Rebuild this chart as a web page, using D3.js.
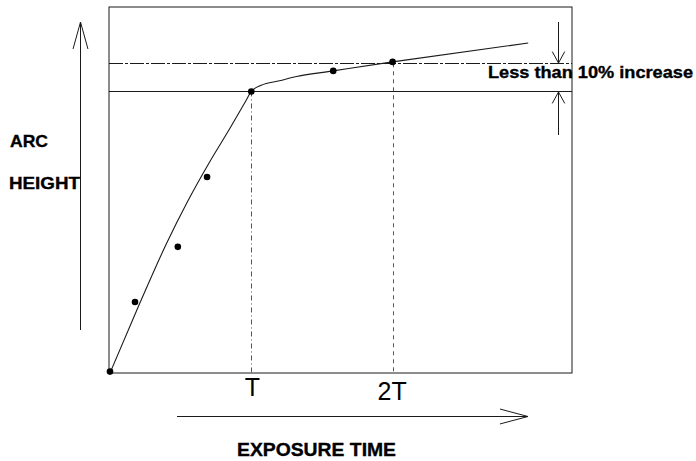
<!DOCTYPE html>
<html>
<head>
<meta charset="utf-8">
<script src="https://cdn.jsdelivr.net/npm/d3@7/dist/d3.min.js"></script>
<style>
  html, body { margin: 0; padding: 0; background: #fff; }
  svg { display: block; }
  text { font-family: "Liberation Sans", Arial, sans-serif; fill: #000; }
</style>
</head>
<body>
<svg id="chart" width="696" height="461"></svg>
<script>
// ---- data (exposure time in units of T, arc height in % of height at T) ----
const dotTime   = [0, 0.177, 0.48, 0.687, 1.0, 1.58, 2.0];
const dotHeight = [0.5, 25.2, 44.8, 69.6, 100, 107.3, 110.5];

const curveTime   = [0, 0.2, 0.4, 0.55, 0.7, 0.85, 0.96, 1.0, 1.07, 1.2, 1.32, 1.58, 2.0, 2.96];
const curveHeight = [0, 23.5, 46, 61, 74.5, 87, 96.5, 100, 102.2, 103.8, 105.3, 107.3, 110.5, 117.2];

const refLevels   = [100, 110];          // saturation level and +10 %
const tickValues  = [1, 2];
const tickLabels  = ["T", "2T"];

const yLabelLines = ["ARC", "HEIGHT"];
const xLabel      = "EXPOSURE TIME";
const noteLabel   = "Less than 10% increase";

// ---- layout ----
const svg = d3.select("#chart");
const box = { left: 109, right: 572, top: 7, bottom: 373 };

const x = d3.scaleLinear().domain([0, 3.27]).range([110, box.right]);
const y = d3.scaleLinear().domain([0, 130]).range([box.bottom, box.top]);

const ink = "#1a1a1a";

// frame
svg.append("rect")
  .attr("x", box.left).attr("y", box.top)
  .attr("width", box.right - box.left).attr("height", box.bottom - box.top)
  .attr("fill", "none").attr("stroke", ink).attr("stroke-width", 1);

// reference horizontal lines
svg.selectAll("line.ref").data(refLevels).join("line")
  .attr("class", "ref")
  .attr("x1", box.left).attr("x2", box.right)
  .attr("y1", d => Math.round(y(d)) + 0.5).attr("y2", d => Math.round(y(d)) + 0.5)
  .attr("stroke", ink).attr("stroke-width", 1)
  .attr("stroke-dasharray", (d, i) => i === 1 ? "14,2,3,2" : null);

// vertical drop lines at T and 2T
svg.selectAll("line.drop").data(tickValues).join("line")
  .attr("class", "drop")
  .attr("x1", d => Math.round(x(d)) + 0.5).attr("x2", d => Math.round(x(d)) + 0.5)
  .attr("y1", (d, i) => y(refLevels[i])).attr("y2", box.bottom)
  .attr("stroke", "#555").attr("stroke-width", 1)
  .attr("stroke-dasharray", (d, i) => i === 0 ? "5,3,1,3" : "4,4");

// fitted curve
const line = d3.line()
  .x(d => x(d[0])).y(d => y(d[1]))
  .curve(d3.curveMonotoneX);
svg.append("path")
  .datum(curveTime.map((t, i) => [t, curveHeight[i]]))
  .attr("d", line)
  .attr("fill", "none").attr("stroke", ink).attr("stroke-width", 1.1);

// data points
svg.selectAll("circle.pt").data(dotTime.map((t, i) => [t, dotHeight[i]])).join("circle")
  .attr("class", "pt")
  .attr("cx", d => x(d[0])).attr("cy", d => y(d[1]))
  .attr("r", 3.3).attr("fill", "#000");

// x tick labels (T, 2T)
const xAxis = d3.axisBottom(x)
  .tickValues(tickValues)
  .tickFormat((d, i) => tickLabels[i])
  .tickSize(0).tickPadding(6);
const gx = svg.append("g").attr("transform", `translate(0,${box.bottom})`).call(xAxis);
gx.select(".domain").remove();
gx.selectAll("text")
  .attr("font-family", "Liberation Sans, Arial, sans-serif")
  .attr("font-size", 25).attr("fill", "#000")
  .attr("dy", "0.71em")
  .attr("dx", (d, i) => i === 0 ? 0.5 : -1)
  .attr("y", (d, i) => i === 0 ? 5 : 9);

// arrows
function arrow(x1, y1, x2, y2, head, spread) {
  const g = svg.append("g").attr("stroke", ink).attr("stroke-width", 1).attr("fill", "none");
  g.append("line").attr("x1", x1).attr("y1", y1).attr("x2", x2).attr("y2", y2);
  const ang = Math.atan2(y2 - y1, x2 - x1);
  [-1, 1].forEach(s => {
    const a = ang + Math.PI + s * spread;
    g.append("line")
      .attr("x1", x2).attr("y1", y2)
      .attr("x2", x2 + head * Math.cos(a)).attr("y2", y2 + head * Math.sin(a));
  });
}
// vertical axis arrow
arrow(80.5, 330, 80.5, 22, 28, 0.27);
// horizontal axis arrow
arrow(177, 416.5, 528, 416.5, 29, 0.26);
// right side "10 %" arrows
arrow(558.5, 22, 558.5, Math.round(y(refLevels[1])), 13, 0.5);
arrow(558.5, 135, 558.5, Math.round(y(refLevels[0])) + 1, 13, 0.5);

// labels
function label(txt, lx, ly, size, len) {
  svg.append("text").attr("x", lx).attr("y", ly)
    .attr("font-size", size).attr("font-weight", "bold")
    .attr("stroke", "#000").attr("stroke-width", 0.35)
    .attr("textLength", len).attr("lengthAdjust", "spacingAndGlyphs")
    .text(txt);
}
label(yLabelLines[0], 10, 147, 17, 38);
label(yLabelLines[1], 9, 188.5, 16.5, 71);
label(xLabel, 237, 456, 19, 159);
label(noteLabel, 488, 77.5, 16.5, 205);
</script>
</body>
</html>
